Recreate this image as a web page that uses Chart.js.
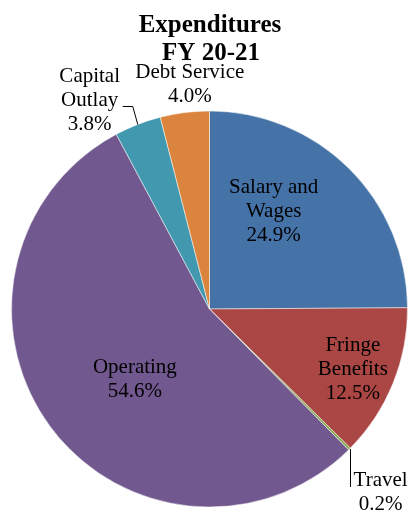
<!DOCTYPE html>
<html>
<head>
<meta charset="utf-8">
<script src="https://cdn.jsdelivr.net/npm/chart.js@4.4.1/dist/chart.umd.min.js"></script>
<style>
  html, body { margin: 0; padding: 0; background: #fff; }
  #wrap { width: 411px; height: 513px; position: relative; }
</style>
</head>
<body>
<div id="wrap"><canvas id="pie"></canvas></div>
<script>
// chart data
const categories = ['Salary and Wages', 'Fringe Benefits', 'Travel', 'Operating', 'Capital Outlay', 'Debt Service'];
const labelLines = [['Salary and', 'Wages'], ['Fringe', 'Benefits'], ['Travel'], ['Operating'], ['Capital', 'Outlay'], ['Debt Service']];
const percents = [24.9, 12.5, 0.2, 54.6, 3.8, 4.0];
const colors = ['#4572A7', '#AA4643', '#89A54E', '#71588F', '#4198AF', '#DB843D'];
const titleLines = ['Expenditures', 'FY 20-21'];

// where each data label sits: angle shift from slice middle (deg) and distance (x radius)
const labelSpots = [
  { shift: -11.5, dist: 0.59 },
  { shift: 0.6, dist: 0.785 },
  { shift: 2.0, dist: 1.267, leader: 'down' },
  { shift: -7.2, dist: 0.52 },
  { shift: -8.6, dist: 1.216, leader: 'elbow' },
  { shift: 2.2, dist: 1.14 }
];

const textPlugin = {
  id: 'textPlugin',
  afterDraw(chart) {
    const ctx = chart.ctx;
    ctx.save();
    ctx.fillStyle = '#000';
    ctx.textAlign = 'center';
    ctx.textBaseline = 'alphabetic';

    // title
    ctx.font = 'bold 25px "Liberation Serif", "Times New Roman", serif';
    ctx.fillText(titleLines[0], 210, 32);
    ctx.fillText(titleLines[1], 211, 60);

    const arcs = chart.getDatasetMeta(0).data;
    ctx.font = '21px "Liberation Serif", "Times New Roman", serif';
    ctx.textBaseline = 'middle';
    const lh = 24;
    arcs.forEach((arc, i) => {
      const { x, y, startAngle, endAngle, outerRadius } = arc.getProps(['x', 'y', 'startAngle', 'endAngle', 'outerRadius'], true);
      const mid = (startAngle + endAngle) / 2;
      const spot = labelSpots[i];
      const a = mid + spot.shift * Math.PI / 180;
      const cx = x + Math.cos(a) * outerRadius * spot.dist;
      const cy = y + Math.sin(a) * outerRadius * spot.dist;
      const lines = labelLines[i].concat([percents[i].toFixed(1) + '%']);
      const top = cy - (lines.length - 1) * lh / 2;
      lines.forEach((t, k) => ctx.fillText(t, cx, top + k * lh));

      // leader lines
      const ex = x + Math.cos(mid) * outerRadius;
      const ey = y + Math.sin(mid) * outerRadius;
      ctx.strokeStyle = '#000';
      ctx.lineWidth = 1;
      if (spot.leader === 'down') {
        ctx.beginPath();
        ctx.moveTo(Math.round(ex) + 0.5, ey);
        ctx.lineTo(Math.round(ex) + 0.5, ey + 38);
        ctx.stroke();
      } else if (spot.leader === 'elbow') {
        ctx.beginPath();
        ctx.moveTo(ex, ey);
        ctx.lineTo(ex - 5, Math.round(ey - 18) + 0.5);
        ctx.lineTo(ex - 15, Math.round(ey - 18) + 0.5);
        ctx.stroke();
      }
    });
    ctx.restore();
  }
};

new Chart(document.getElementById('pie'), {
  type: 'pie',
  data: {
    labels: categories,
    datasets: [{
      data: percents,
      backgroundColor: colors,
      borderColor: '#ffffff',
      borderWidth: 0.5
    }]
  },
  options: {
    responsive: true,
    maintainAspectRatio: false,
    animation: false,
    layout: { padding: { left: 11.25, right: 3.25, top: 110.75, bottom: 5.75 } },
    plugins: {
      legend: { display: false },
      title: { display: false },
      tooltip: { enabled: false }
    }
  },
  plugins: [textPlugin]
});
</script>
</body>
</html>
